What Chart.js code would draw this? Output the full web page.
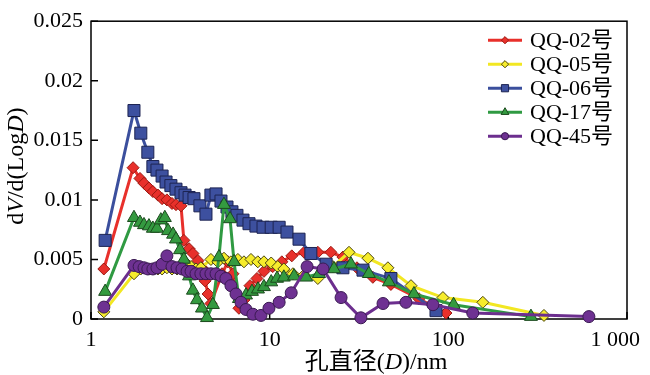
<!DOCTYPE html>
<html>
<head>
<meta charset="utf-8">
<script src="https://cdn.jsdelivr.net/npm/chart.js@4.4.0/dist/chart.umd.min.js"></script>
<style>
  html, body { margin: 0; padding: 0; background: #fff; }
  #wrap { width: 650px; height: 375px; }
</style>
</head>
<body>
<div id="wrap"><canvas id="chartPore"></canvas></div>
<script>
const seriesNames = ["QQ-02号", "QQ-05号", "QQ-06号", "QQ-17号", "QQ-45号"];
const xTicks = [1, 10, 100, 1000];
const xTickLabels = ["1", "10", "100", "1 000"];
const yTickLabels = ["0", "0.005", "0.01", "0.015", "0.02", "0.025"];

// pore diameter (nm) and dV/d(logD) per sample
const qq02D = [1.18, 1.72, 1.88, 1.98, 2.11, 2.22, 2.37, 2.50, 2.66, 2.84, 2.99, 3.19, 3.31, 3.54, 3.72, 3.97, 4.18, 4.35, 4.52, 4.69, 5.41, 5.84, 6.23, 6.73, 7.18, 7.76, 8.49, 9.29, 10.4, 11.7, 13.3, 15.6, 18.6, 22.0, 25.7, 30.8, 37.8, 47.7, 68.5, 97.0];
const qq02V = [0.0042, 0.0127, 0.0118, 0.0114, 0.0110, 0.0107, 0.0104, 0.0101, 0.0100, 0.0097, 0.0096, 0.0095, 0.0066, 0.0059, 0.0055, 0.0049, 0.0043, 0.0032, 0.0021, 0.0013, 0.0038, 0.0048, 0.0038, 0.0009, 0.0016, 0.0028, 0.0034, 0.0040, 0.0044, 0.0048, 0.0053, 0.0056, 0.0056, 0.0056, 0.0052, 0.0043, 0.0035, 0.0029, 0.0017, 0.0005];

const qq05D = [1.18, 1.74, 1.90, 2.08, 2.22, 2.37, 2.50, 2.66, 2.84, 3.03, 3.19, 3.40, 3.63, 3.87, 4.12, 4.69, 5.13, 5.55, 6.07, 6.64, 7.18, 7.86, 8.58, 9.29, 10.2, 11.1, 12.0, 13.5, 15.6, 18.6, 22.6, 27.8, 35.5, 45.9, 61.8, 93.3, 156, 343];
const qq05V = [0.0006, 0.0038, 0.0042, 0.0042, 0.0042, 0.0042, 0.0042, 0.0043, 0.0042, 0.0042, 0.0043, 0.0047, 0.0044, 0.0042, 0.0043, 0.0050, 0.0048, 0.0051, 0.0048, 0.0050, 0.0048, 0.0050, 0.0048, 0.0048, 0.0047, 0.0044, 0.0042, 0.0038, 0.0037, 0.0034, 0.0044, 0.0056, 0.0051, 0.0043, 0.0028, 0.0018, 0.0014, 0.0003];

const qq06D = [1.20, 1.74, 1.90, 2.08, 2.22, 2.34, 2.50, 2.63, 2.80, 2.99, 3.19, 3.36, 3.54, 3.77, 4.07, 4.40, 4.69, 5.01, 5.34, 5.77, 6.15, 6.56, 7.09, 7.66, 8.38, 9.18, 10.2, 11.3, 12.5, 14.6, 17.0, 20.7, 25.7, 33.3, 47.7, 85.3];
const qq06V = [0.0066, 0.0175, 0.0156, 0.0140, 0.0128, 0.0125, 0.0120, 0.0115, 0.0112, 0.0109, 0.0106, 0.0104, 0.0102, 0.0101, 0.0095, 0.0088, 0.0104, 0.0105, 0.0099, 0.0094, 0.0090, 0.0087, 0.0083, 0.0080, 0.0078, 0.0077, 0.0077, 0.0077, 0.0073, 0.0067, 0.0055, 0.0046, 0.0043, 0.0041, 0.0034, 0.0007];

const qq17D = [1.20, 1.74, 1.88, 1.98, 2.11, 2.22, 2.34, 2.46, 2.59, 2.70, 2.88, 2.99, 3.15, 3.31, 3.54, 3.72, 3.92, 4.18, 4.46, 4.81, 5.20, 5.55, 6.00, 6.32, 6.73, 7.37, 7.96, 8.60, 9.29, 10.2, 11.0, 12.0, 13.7, 16.0, 18.9, 22.9, 28.5, 35.9, 46.5, 64.2, 107, 290];
const qq17V = [0.0023, 0.0085, 0.0081, 0.0079, 0.0078, 0.0076, 0.0076, 0.0083, 0.0085, 0.0074, 0.0071, 0.0067, 0.0058, 0.0050, 0.0036, 0.0024, 0.0016, 0.0009, 0.0001, 0.0012, 0.0052, 0.0096, 0.0084, 0.0048, 0.0017, 0.0020, 0.0023, 0.0025, 0.0027, 0.0031, 0.0034, 0.0035, 0.0036, 0.0035, 0.0038, 0.0042, 0.0046, 0.0038, 0.0031, 0.0021, 0.0012, 0.0002];

const qq45D = [1.18, 1.74, 1.86, 1.98, 2.08, 2.22, 2.34, 2.50, 2.66, 2.84, 3.03, 3.23, 3.45, 3.63, 3.87, 4.12, 4.40, 4.69, 5.01, 5.34, 5.69, 6.07, 6.48, 6.91, 7.37, 8.06, 8.94, 9.91, 11.3, 13.2, 16.2, 19.9, 25.1, 32.4, 43.1, 57.9, 82.0, 137, 612];
const qq45V = [0.0010, 0.0045, 0.0044, 0.0043, 0.0042, 0.0042, 0.0043, 0.0046, 0.0053, 0.0044, 0.0043, 0.0042, 0.0040, 0.0040, 0.0038, 0.0038, 0.0038, 0.0038, 0.0038, 0.0036, 0.0034, 0.0028, 0.0021, 0.0014, 0.0008, 0.0004, 0.0003, 0.0009, 0.0014, 0.0022, 0.0044, 0.0042, 0.0018, 0.0001, 0.0013, 0.0014, 0.0012, 0.0005, 0.0002];

const serif = "'Liberation Serif', 'Times New Roman', 'Noto Sans CJK SC', serif";

const pts = (d, v) => d.map((x, i) => ({ x: x, y: v[i] }));

function series(i, d, v, line, fill, edge, style, r, order) {
  return {
    label: seriesNames[i],
    data: pts(d, v),
    showLine: true,
    borderColor: line,
    borderWidth: 3,
    backgroundColor: fill,
    pointBackgroundColor: fill,
    pointBorderColor: edge,
    pointBorderWidth: 1,
    pointStyle: style,
    pointRadius: r,
    tension: 0,
    clip: false,
    order: order,
  };
}

// draw a line of text where some pieces are italic
function richText(ctx, parts, size, cx, cy) {
  const fonts = parts.map((p) => (p[1] ? "italic " : "") + size + "px " + serif);
  let total = 0;
  const widths = parts.map((p, i) => {
    ctx.font = fonts[i];
    const w = ctx.measureText(p[0]).width;
    total += w;
    return w;
  });
  let x = cx - total / 2;
  ctx.textAlign = "left";
  ctx.textBaseline = "middle";
  parts.forEach((p, i) => {
    ctx.font = fonts[i];
    ctx.fillText(p[0], x, cy);
    x += widths[i];
  });
}

const axesPlugin = {
  id: "axesPlugin",
  beforeDatasetsDraw(chart) {
    const { ctx, chartArea: a, scales } = chart;
    ctx.save();
    ctx.strokeStyle = "#000";
    ctx.lineWidth = 1.5;
    ctx.strokeRect(a.left, a.top, a.right - a.left, a.bottom - a.top);
    ctx.beginPath();
    scales.y.ticks.forEach((t) => {
      const py = scales.y.getPixelForValue(t.value);
      ctx.moveTo(a.left, py);
      ctx.lineTo(a.left + 7, py);
    });
    xTicks.forEach((v) => {
      const px = scales.x.getPixelForValue(v);
      ctx.moveTo(px, a.bottom);
      ctx.lineTo(px, a.bottom - 7);
    });
    ctx.stroke();

    ctx.fillStyle = "#000";
    ctx.font = "22px " + serif;
    ctx.textAlign = "center";
    ctx.textBaseline = "middle";
    xTicks.forEach((v, i) => {
      const w = ctx.measureText(xTickLabels[i]).width;
      const px = Math.min(scales.x.getPixelForValue(v), chart.width - 10 - w / 2);
      ctx.fillText(xTickLabels[i], px, a.bottom + 21);
    });

    richText(ctx, [["孔直径(", false], ["D", true], [")/nm", false]], 24, (a.left + a.right) / 2 + 17, a.bottom + 44);

    ctx.save();
    ctx.translate(17, (a.top + a.bottom) / 2 - 4);
    ctx.rotate(-Math.PI / 2);
    richText(ctx, [["d", false], ["V", true], ["/d(Log", false], ["D", true], [")", false]], 24, 0, 0);
    ctx.restore();
    ctx.restore();
  },
  afterDraw(chart) {
    const { ctx, chartArea: a } = chart;
    ctx.save();
    chart.data.datasets.forEach((ds, i) => {
      const y = a.top + 19 + i * 24;
      ctx.strokeStyle = ds.borderColor;
      ctx.lineWidth = 3;
      ctx.beginPath();
      ctx.moveTo(a.right - 139, y);
      ctx.lineTo(a.right - 105, y);
      ctx.stroke();
      ctx.fillStyle = ds.pointBackgroundColor;
      ctx.strokeStyle = ds.pointBorderColor;
      ctx.lineWidth = 1;
      Chart.helpers.drawPoint(ctx, { pointStyle: ds.pointStyle, radius: ds.pointRadius * 0.6, borderWidth: 1, rotation: 0 }, a.right - 122, y);
      ctx.fillStyle = "#000";
      ctx.font = "22px " + serif;
      ctx.textAlign = "left";
      ctx.textBaseline = "middle";
      ctx.fillText(ds.label, a.right - 97, y + 1);
    });
    ctx.restore();
  },
};

document.addEventListener("DOMContentLoaded", () => {
  new Chart(document.querySelector("#chartPore"), {
    type: "scatter",
    data: {
      datasets: [
        series(0, qq02D, qq02V, "#e8302b", "#e8302b", "#9a1a12", "rectRot", 6, 4),
        series(1, qq05D, qq05V, "#f2e722", "#f6ec2c", "#4a4410", "rectRot", 6, 3),
        series(2, qq06D, qq06V, "#3b4f9d", "#3d509f", "#1d2452", "rect", 8.5, 2),
        series(3, qq17D, qq17V, "#2f9a42", "#349a40", "#1b4a1d", "triangle", 7.5, 1),
        series(4, qq45D, qq45V, "#6c2e8e", "#6e3192", "#3a1a52", "circle", 6, 0),
      ],
    },
    options: {
      responsive: true,
      maintainAspectRatio: false,
      animation: false,
      layout: { padding: { top: 13, right: 23, left: 0, bottom: 0 } },
      scales: {
        x: {
          type: "logarithmic",
          min: 1,
          max: 1000,
          grid: { display: false },
          border: { display: false },
          ticks: { display: false },
          afterFit: (scale) => { scale.height = 56; },
        },
        y: {
          min: 0,
          max: 0.025,
          grid: { display: false, drawTicks: false },
          border: { display: false },
          ticks: {
            stepSize: 0.005,
            padding: 8,
            color: "#000",
            font: { family: serif, size: 22 },
            callback: (v, i) => yTickLabels[i],
          },
          afterFit: (scale) => { scale.width = 91; },
        },
      },
      plugins: {
        legend: { display: false },
        tooltip: { enabled: false },
      },
    },
    plugins: [axesPlugin],
  });
});
</script>
</body>
</html>
